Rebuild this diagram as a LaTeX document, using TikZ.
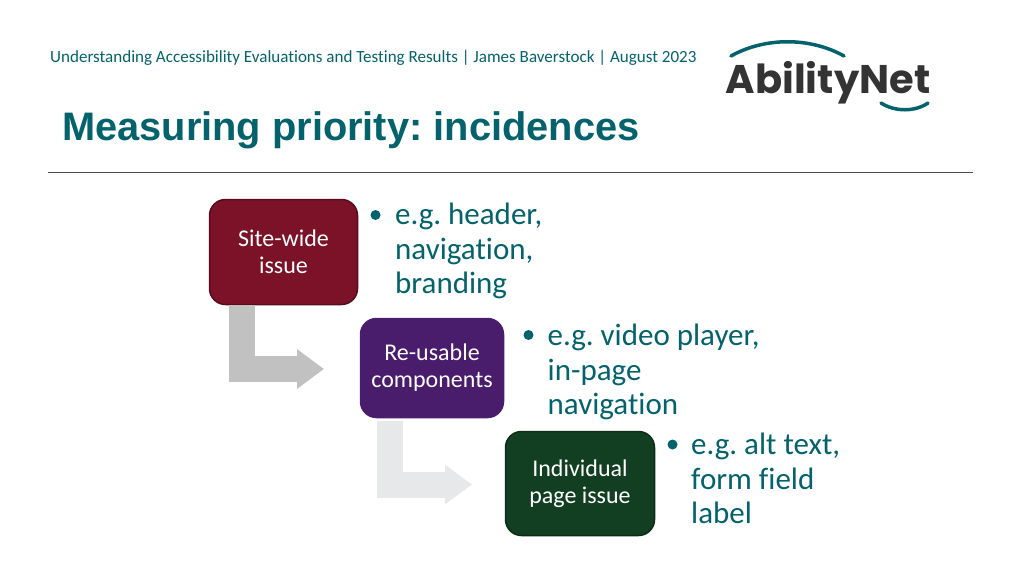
\documentclass[tikz,border=0pt]{standalone}
\usepackage{fontspec}
\setmainfont[Ligatures=NoCommon]{Carlito}
\newfontfamily\titlefont{Liberation Sans}
\newfontfamily\logofont{Poppins}
\usetikzlibrary{arrows.meta}
\definecolor{teal1}{HTML}{03626C}
\definecolor{wine}{HTML}{7C1228}
\definecolor{wineline}{HTML}{560C1C}
\definecolor{plum}{HTML}{4A1C6C}
\definecolor{forest}{HTML}{123F22}
\definecolor{forestline}{HTML}{0C2C18}
\definecolor{logotext}{HTML}{333333}
\definecolor{arrowA}{HTML}{C0C1C0}
\definecolor{arrowB}{HTML}{E7E8E9}
\tikzset{
    issue/.style={shape=rectangle,rounded corners=16,line width=1.5,text=white,align=center,
        font=\fontsize{24}{27}\selectfont,inner sep=0},
    bullettext/.style={anchor=north west,align=left,text=teal1,inner sep=0,
        font=\fontsize{31}{34.3}\selectfont},
    bulletdot/.style={shape=circle,fill=teal1,inner sep=0,minimum size=10},
    bentarrow/.style={line width=26,-{Triangle[width=38,length=27]}},
    arc/.style={line width=3.5,color=teal1,line cap=round}
}
\begin{document}
\frenchspacing
\begin{tikzpicture}[x=1pt,y=-1pt]
    \useasboundingbox (0,0) rectangle (1024,576);

    \node[anchor=west,inner sep=0,text=teal1,font=\fontsize{17.05}{19}\selectfont] (header) at (50,58)
        {Understanding Accessibility Evaluations and Testing Results | James Baverstock | August 2023};
    \node[anchor=west,inner sep=0,text=teal1,font=\titlefont\bfseries\fontsize{39.8}{46}\selectfont] (title) at (62,130)
        {Measuring priority: incidences};
    \coordinate (ruleL) at (48,172.5);
    \coordinate (ruleR) at (973,172.5);
    \draw[line width=0.8,color=black!70] (ruleL) -- (ruleR);

    % logo
    \node[anchor=center,inner sep=0,text=logotext,font=\logofont\bfseries\fontsize{40}{46}\selectfont] (logo) at (828,83) {AbilityNet};
    \coordinate (arcA) at (731,56);
    \coordinate (arcB) at (844,56);
    \coordinate (arcC) at (881,103);
    \coordinate (arcD) at (928,103);
    \draw[arc] (arcA) .. controls (765,37) and (810,37) .. (arcB);
    \draw[arc] (arcC) .. controls (895,112) and (915,112) .. (arcD);

    \node[issue,draw=wineline,fill=wine,minimum width=148,minimum height=105] (site) at (283.5,252) {Site-wide\\issue};
    \node[issue,draw=plum,fill=plum,minimum width=143,minimum height=99] (reuse) at (432,368) {Re-usable\\components};
    \node[issue,draw=forestline,fill=forest,minimum width=149,minimum height=104] (page) at (580,483.5) {Individual\\page issue};

    \node[bulletdot] (dotA) at (375.5,215) {};
    \node[bullettext] (textA) at (395,203) {e.g. header,\\navigation,\\branding};
    \node[bulletdot] (dotB) at (528.5,335) {};
    \node[bullettext] (textB) at (547.5,324) {e.g. video player,\\in-page\\navigation};
    \node[bulletdot] (dotC) at (672.5,444.5) {};
    \node[bullettext] (textC) at (691,433) {e.g. alt text,\\form field\\label};

    \coordinate (bendA) at (241.5,305);
    \coordinate (tipA) at (324,369);
    \coordinate (bendB) at (390,421);
    \coordinate (tipB) at (472,484.5);
    \draw[bentarrow,color=arrowA] (bendA) |- (tipA);
    \draw[bentarrow,color=arrowB] (bendB) |- (tipB);
\end{tikzpicture}
\end{document}
